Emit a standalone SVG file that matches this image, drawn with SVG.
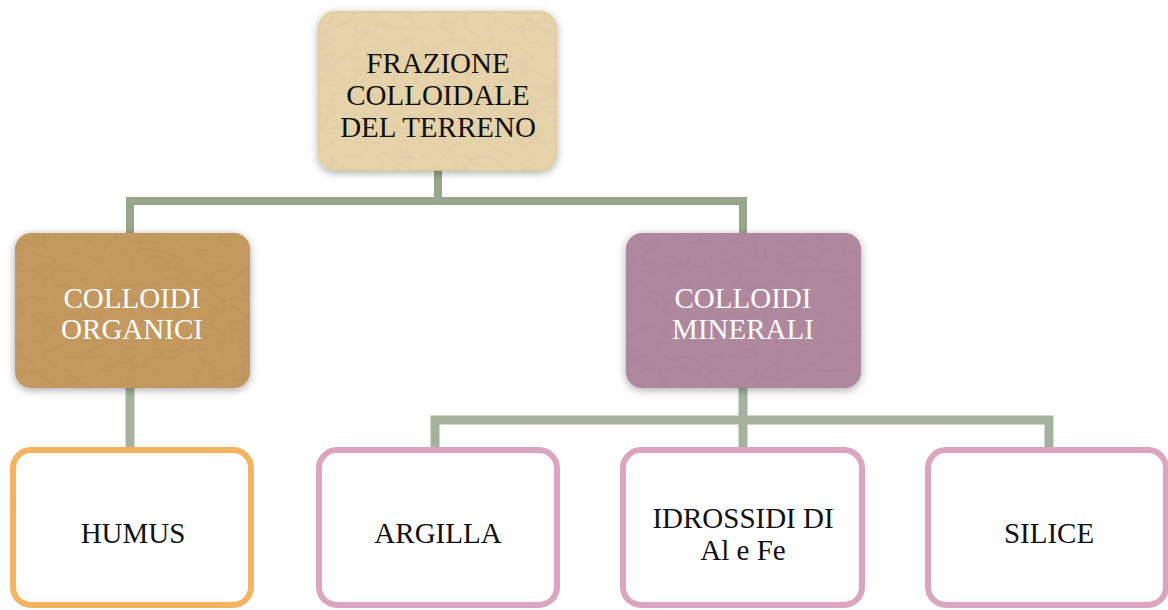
<svg xmlns="http://www.w3.org/2000/svg" width="1168" height="610" viewBox="0 0 1168 610">
  <style>
    .lbl { font-family: "Liberation Serif", "DejaVu Serif", serif; font-size: 29px; text-anchor: middle; }
    .dark { fill: #111111; }
    .light { fill: #ffffff; }
    .conn { fill: none; stroke-linejoin: miter; stroke-linecap: butt; }
    .c1 { stroke: #9aa68a; stroke-width: 8; }
    .c2 { stroke: #a5b39d; stroke-width: 9; }
    .leaf { fill: #fefefe; stroke-width: 6; }
  </style>
  <defs>
    <filter id="shadow" x="-15%" y="-15%" width="130%" height="135%">
      <feGaussianBlur in="SourceAlpha" stdDeviation="4"/>
      <feOffset dx="0" dy="2" result="b"/>
      <feComponentTransfer in="b" result="s"><feFuncA type="linear" slope="0.35"/></feComponentTransfer>
      <feTurbulence type="turbulence" baseFrequency="0.045 0.07" numOctaves="3" seed="11" result="n"/>
      <feColorMatrix in="n" type="matrix" values="0 0 0 0 0  0 0 0 0 0  0 0 0 0 0  -2.2 0 0 0 0.55" result="na"/>
      <feComposite in="na" in2="SourceGraphic" operator="in" result="tex"/>
      <feComponentTransfer in="tex" result="tex2"><feFuncA type="linear" slope="0.12"/></feComponentTransfer>
      <feMerge>
        <feMergeNode in="s"/>
        <feMergeNode in="SourceGraphic"/>
        <feMergeNode in="tex2"/>
      </feMerge>
    </filter>
  </defs>
  <rect width="1168" height="610" fill="#ffffff"/>

  <g id="connectors">
    <path class="conn c1" d="M438,170 V201 M130,233 V201 H743 V233"/>
    <path class="conn c2" d="M130,388 V450"/>
    <path class="conn c2" d="M743,388 V450 M435,450 V420 H1049 V450"/>
  </g>

  <g id="node-frazione">
    <rect x="319" y="12" width="237" height="158" rx="16" fill="#e6d3aa" stroke="#e2cc94" stroke-width="1.5" filter="url(#shadow)"/>
    <text class="lbl dark" x="438" y="73">FRAZIONE</text>
    <text class="lbl dark" x="438" y="105">COLLOIDALE</text>
    <text class="lbl dark" x="438" y="137">DEL TERRENO</text>
  </g>

  <g id="node-organici">
    <rect x="15" y="233" width="235" height="155" rx="16" fill="#c4995f" filter="url(#shadow)"/>
    <text class="lbl light" x="132" y="308">COLLOIDI</text>
    <text class="lbl light" x="132" y="339">ORGANICI</text>
  </g>

  <g id="node-minerali">
    <rect x="626" y="233" width="235" height="155" rx="16" fill="#b0889e" filter="url(#shadow)"/>
    <text class="lbl light" x="743" y="308">COLLOIDI</text>
    <text class="lbl light" x="743" y="339">MINERALI</text>
  </g>

  <g id="node-humus">
    <rect class="leaf" x="13" y="450" width="238" height="155" rx="18" stroke="#f6b35e"/>
    <text class="lbl dark" x="133" y="543">HUMUS</text>
  </g>

  <g id="node-argilla">
    <rect class="leaf" x="319" y="450" width="238" height="155" rx="18" stroke="#dba5bf"/>
    <text class="lbl dark" x="438" y="543">ARGILLA</text>
  </g>

  <g id="node-idrossidi">
    <rect class="leaf" x="623" y="450" width="239" height="155" rx="18" stroke="#dba5bf"/>
    <text class="lbl dark" x="743" y="528">IDROSSIDI DI</text>
    <text class="lbl dark" x="743" y="560">Al e Fe</text>
  </g>

  <g id="node-silice">
    <rect class="leaf" x="928" y="450" width="238" height="155" rx="18" stroke="#dba5bf"/>
    <text class="lbl dark" x="1049" y="543">SILICE</text>
  </g>
</svg>
